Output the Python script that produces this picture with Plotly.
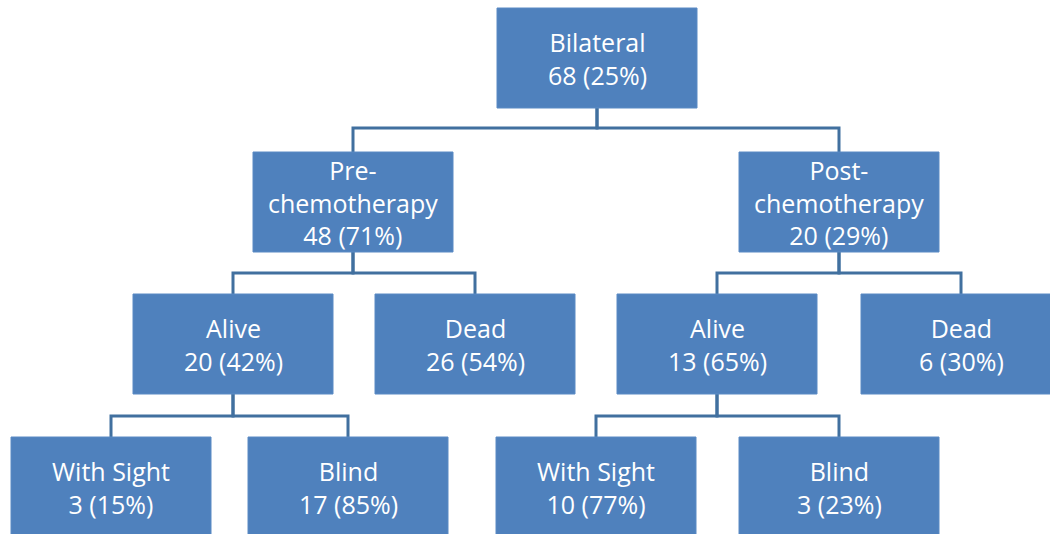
import plotly.graph_objects as go

# ---- data ----
node_names = ["Bilateral", "Pre-<br>chemotherapy", "Post-<br>chemotherapy",
              "Alive", "Dead", "Alive", "Dead",
              "With Sight", "Blind", "With Sight", "Blind"]
node_counts = [68, 48, 20, 20, 26, 13, 6, 3, 17, 10, 3]
node_pcts = [25, 71, 29, 42, 54, 65, 30, 15, 85, 77, 23]
node_parent = [None, 0, 0, 1, 1, 2, 2, 3, 3, 5, 5]

# ---- layout (positions, pixel space) ----
node_left = [497, 253, 739, 133, 375, 617, 861, 11, 248, 496, 739]
node_level = [0, 1, 1, 2, 2, 2, 2, 3, 3, 3, 3]
level_top = [8, 152, 294, 437]
BOX_W = 200
BOX_H = 100
level_mid = [128, 273, 416]

FILL = "#4F81BD"
LINE = "#41709F"

fig = go.Figure()
shapes = []

# connectors
for i, p in enumerate(node_parent):
    if p is None:
        continue
    pl = node_level[p]
    px = node_left[p] + BOX_W / 2
    cx = node_left[i] + BOX_W / 2
    mid = level_mid[pl]
    pbot = level_top[pl] + BOX_H
    ctop = level_top[node_level[i]]
    shapes.append(dict(type="path", xref="x", yref="y",
                       path=f"M {px},{pbot} L {px},{mid} L {cx},{mid} L {cx},{ctop}",
                       line=dict(color=LINE, width=3), layer="below"))

# boxes
for i in range(len(node_names)):
    x0 = node_left[i]
    y0 = level_top[node_level[i]]
    shapes.append(dict(type="rect", xref="x", yref="y",
                       x0=x0, x1=x0 + BOX_W, y0=y0, y1=y0 + BOX_H,
                       fillcolor=FILL, line=dict(color="#5A8AC4", width=1), layer="above"))

annotations = []
for i in range(len(node_names)):
    cx = node_left[i] + BOX_W / 2
    cy = level_top[node_level[i]] + BOX_H / 2
    annotations.append(dict(x=cx, y=cy, xref="x", yref="y",
                            text=f"{node_names[i]}<br>{node_counts[i]} ({node_pcts[i]}%)",
                            showarrow=False, align="center",
                            font=dict(family="Open Sans", size=25, color="white")))

fig.update_layout(
    width=1050, height=534,
    margin=dict(l=0, r=0, t=0, b=0),
    paper_bgcolor="white", plot_bgcolor="white",
    shapes=shapes, annotations=annotations,
    xaxis=dict(range=[0, 1050], visible=False, fixedrange=True),
    yaxis=dict(range=[534, 0], visible=False, fixedrange=True),
    showlegend=False,
)

fig.write_html("out.html", config={"displayModeBar": False},
               post_script="document.body.style.margin='0';document.body.style.overflow='hidden';")
